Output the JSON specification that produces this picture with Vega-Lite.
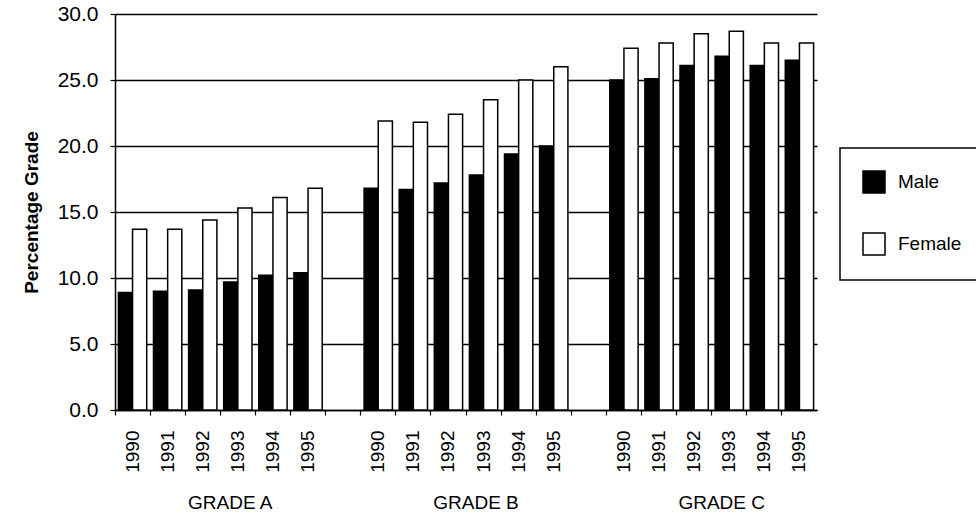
{
  "$schema": "https://vega.github.io/schema/vega-lite/v6.json",
  "autosize": "none",
  "width": 702,
  "height": 396,
  "padding": {"left": 115, "top": 14, "right": 159, "bottom": 110},
  "background": "white",
  "config": {
    "view": {"stroke": null},
    "font": "Liberation Sans",
    "axis": {
      "labelFont": "Liberation Sans",
      "titleFont": "Liberation Sans",
      "labelColor": "black",
      "titleColor": "black",
      "domainColor": "black",
      "tickColor": "black",
      "domainWidth": 1.5,
      "tickWidth": 1.2
    },
    "legend": {
      "strokeColor": "black",
      "strokeWidth": 1.5,
      "labelFont": "Liberation Sans",
      "labelColor": "black"
    }
  },
  "datasets": {
    "bars": [
      {"grade": "GRADE A", "year": "1990", "slot": "A1990", "sex": "Male", "value": 8.9},
      {"grade": "GRADE A", "year": "1990", "slot": "A1990", "sex": "Female", "value": 13.7},
      {"grade": "GRADE A", "year": "1991", "slot": "A1991", "sex": "Male", "value": 9.0},
      {"grade": "GRADE A", "year": "1991", "slot": "A1991", "sex": "Female", "value": 13.7},
      {"grade": "GRADE A", "year": "1992", "slot": "A1992", "sex": "Male", "value": 9.1},
      {"grade": "GRADE A", "year": "1992", "slot": "A1992", "sex": "Female", "value": 14.4},
      {"grade": "GRADE A", "year": "1993", "slot": "A1993", "sex": "Male", "value": 9.7},
      {"grade": "GRADE A", "year": "1993", "slot": "A1993", "sex": "Female", "value": 15.3},
      {"grade": "GRADE A", "year": "1994", "slot": "A1994", "sex": "Male", "value": 10.2},
      {"grade": "GRADE A", "year": "1994", "slot": "A1994", "sex": "Female", "value": 16.1},
      {"grade": "GRADE A", "year": "1995", "slot": "A1995", "sex": "Male", "value": 10.4},
      {"grade": "GRADE A", "year": "1995", "slot": "A1995", "sex": "Female", "value": 16.8},
      {"grade": "GRADE B", "year": "1990", "slot": "B1990", "sex": "Male", "value": 16.8},
      {"grade": "GRADE B", "year": "1990", "slot": "B1990", "sex": "Female", "value": 21.9},
      {"grade": "GRADE B", "year": "1991", "slot": "B1991", "sex": "Male", "value": 16.7},
      {"grade": "GRADE B", "year": "1991", "slot": "B1991", "sex": "Female", "value": 21.8},
      {"grade": "GRADE B", "year": "1992", "slot": "B1992", "sex": "Male", "value": 17.2},
      {"grade": "GRADE B", "year": "1992", "slot": "B1992", "sex": "Female", "value": 22.4},
      {"grade": "GRADE B", "year": "1993", "slot": "B1993", "sex": "Male", "value": 17.8},
      {"grade": "GRADE B", "year": "1993", "slot": "B1993", "sex": "Female", "value": 23.5},
      {"grade": "GRADE B", "year": "1994", "slot": "B1994", "sex": "Male", "value": 19.4},
      {"grade": "GRADE B", "year": "1994", "slot": "B1994", "sex": "Female", "value": 25.0},
      {"grade": "GRADE B", "year": "1995", "slot": "B1995", "sex": "Male", "value": 20.0},
      {"grade": "GRADE B", "year": "1995", "slot": "B1995", "sex": "Female", "value": 26.0},
      {"grade": "GRADE C", "year": "1990", "slot": "C1990", "sex": "Male", "value": 25.0},
      {"grade": "GRADE C", "year": "1990", "slot": "C1990", "sex": "Female", "value": 27.4},
      {"grade": "GRADE C", "year": "1991", "slot": "C1991", "sex": "Male", "value": 25.1},
      {"grade": "GRADE C", "year": "1991", "slot": "C1991", "sex": "Female", "value": 27.8},
      {"grade": "GRADE C", "year": "1992", "slot": "C1992", "sex": "Male", "value": 26.1},
      {"grade": "GRADE C", "year": "1992", "slot": "C1992", "sex": "Female", "value": 28.5},
      {"grade": "GRADE C", "year": "1993", "slot": "C1993", "sex": "Male", "value": 26.8},
      {"grade": "GRADE C", "year": "1993", "slot": "C1993", "sex": "Female", "value": 28.7},
      {"grade": "GRADE C", "year": "1994", "slot": "C1994", "sex": "Male", "value": 26.1},
      {"grade": "GRADE C", "year": "1994", "slot": "C1994", "sex": "Female", "value": 27.8},
      {"grade": "GRADE C", "year": "1995", "slot": "C1995", "sex": "Male", "value": 26.5},
      {"grade": "GRADE C", "year": "1995", "slot": "C1995", "sex": "Female", "value": 27.8}
    ],
    "grades": [
      {"slot": "A1993", "label": "GRADE A"},
      {"slot": "B1993", "label": "GRADE B"},
      {"slot": "C1993", "label": "GRADE C"}
    ]
  },
  "layer": [
    {
      "data": {"name": "bars"},
      "mark": {"type": "bar", "stroke": "black", "strokeWidth": 1.5},
      "encoding": {
        "x": {
          "field": "slot",
          "type": "nominal",
          "scale": {
            "domain": ["A1990", "A1991", "A1992", "A1993", "A1994", "A1995", "gap1",
                       "B1990", "B1991", "B1992", "B1993", "B1994", "B1995", "gap2",
                       "C1990", "C1991", "C1992", "C1993", "C1994", "C1995"],
            "paddingInner": 0,
            "paddingOuter": 0
          },
          "axis": {
            "title": null,
            "orient": "bottom",
            "labelAngle": 270,
            "labelFontSize": 19,
            "labelExpr": "indexof(datum.value, 'gap') >= 0 ? '' : substring(datum.value, 1)",
            "bandPosition": 0,
            "labelOffset": 0,
            "ticks": true,
            "tickSize": 5,
            "labelPadding": 15,
            "domain": true,
            "grid": false
          }
        },
        "xOffset": {
          "field": "sex",
          "type": "nominal",
          "scale": {"domain": ["Male", "Female"], "paddingInner": 0, "paddingOuter": 0.24}
        },
        "y": {
          "field": "value",
          "type": "quantitative",
          "scale": {"domain": [0, 30], "nice": false},
          "axis": {
            "title": "Percentage Grade",
            "titleFontSize": 19,
            "titleFontWeight": "bold",
            "titlePadding": 16,
            "values": [0, 5, 10, 15, 20, 25, 30],
            "format": ".1f",
            "labelFontSize": 21,
            "labelPadding": 12,
            "tickSize": 5,
            "grid": true,
            "gridColor": "black",
            "gridWidth": 1.5,
            "gridOpacity": 1
          }
        },
        "fill": {
          "field": "sex",
          "type": "nominal",
          "scale": {"domain": ["Male", "Female"], "range": ["black", "white"]},
          "legend": {
            "title": null,
            "orient": "none",
            "legendX": 725,
            "legendY": 134,
            "padding": 22,
            "symbolType": "square",
            "symbolSize": 484,
            "symbolStrokeColor": "black",
            "symbolStrokeWidth": 1.5,
            "symbolOpacity": 1,
            "labelFontSize": 19,
            "labelOffset": 12,
            "rowPadding": 34
          }
        }
      }
    },
    {
      "data": {"name": "grades"},
      "mark": {"type": "text", "fontSize": 19, "baseline": "top", "align": "center", "dx": 10, "color": "black"},
      "encoding": {
        "x": {
          "field": "slot",
          "type": "nominal",
          "bandPosition": 0,
          "axis": null
        },
        "y": {"datum": -6.4, "type": "quantitative", "scale": {"domain": [0, 30], "nice": false}, "axis": null},
        "text": {"field": "label"}
      }
    }
  ],
  "resolve": {"axis": {"x": "independent", "y": "independent"}}
}
